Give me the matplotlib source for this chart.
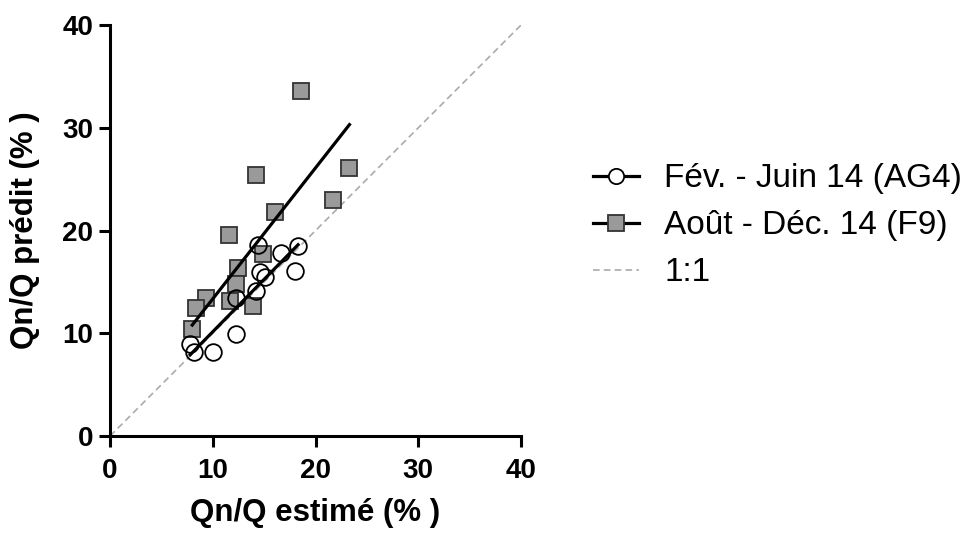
import numpy as np
import matplotlib
matplotlib.use("Agg")
import matplotlib.pyplot as plt

plt.rcParams["font.family"] = ["Liberation Sans", "DejaVu Sans"]

# -----------------------------
# Data
# -----------------------------
# Fév. - Juin 14 (AG4), circles
feb_x = [14.4, 18.3, 16.6, 18.0, 14.6, 15.1, 14.2, 12.3, 12.3, 7.8, 8.2, 10.0]
feb_y = [18.6, 18.5, 17.8, 16.1, 16.0, 15.5, 14.1, 13.4, 9.9, 9.0, 8.2, 8.2]

# Août - Déc. 14 (F9), squares
aug_x = [18.6, 23.3, 14.2, 21.7, 16.1, 11.6, 14.9, 12.5, 12.3, 11.7, 9.3, 8.4, 13.9, 8.0]
aug_y = [33.6, 26.1, 25.4, 23.0, 21.8, 19.6, 17.7, 16.4, 14.8, 13.1, 13.4, 12.5, 12.7, 10.4]

# regression lines as drawn on the chart (slope, intercept)
feb_fit = (1.02, -0.05)
aug_fit = (1.275, 0.6)

labels = ["Fév. - Juin 14 (AG4)", "Août - Déc. 14 (F9)", "1:1"]
ticks = [0, 10, 20, 30, 40]

# -----------------------------
# Figure
# -----------------------------
fig = plt.figure(figsize=(9.73, 5.33), dpi=100)
ax = fig.add_axes([0.1131, 0.182, 0.4224, 0.771])

# 1:1 line
ax.plot([0, 40], [0, 40], ls=(0, (4, 2.5)), color="#aaaaaa", lw=1.2,
        label=labels[2], zorder=1)

# linear fits
for xs, (k, b) in [(feb_x, feb_fit), (aug_x, aug_fit)]:
    xx = np.array([min(xs), max(xs)])
    ax.plot(xx, k * xx + b, color="black", lw=2.3, zorder=3)

ax.plot(aug_x, aug_y, ls="none", marker="s", ms=12, mfc="#9a9a9a",
        mec="#333333", mew=1.3, zorder=2)
ax.plot(feb_x, feb_y, ls="none", marker="o", ms=12, mfc="none",
        mec="black", mew=1.3, zorder=4)

ax.set_xlim(0, 40)
ax.set_ylim(0, 40)
ax.set_xticks(ticks)
ax.set_yticks(ticks)
for s in ["top", "right"]:
    ax.spines[s].set_visible(False)
for s in ["left", "bottom"]:
    ax.spines[s].set_linewidth(2.2)
ax.tick_params(direction="out", length=8, width=2.2, labelsize=20)
ax.tick_params(axis="x", pad=8)
ax.tick_params(axis="y", pad=4)
for t in ax.get_xticklabels() + ax.get_yticklabels():
    t.set_fontweight("bold")

ax.set_xlabel("Qn/Q estimé (% )", fontsize=22.5, fontweight="bold", labelpad=10)
ax.set_ylabel("Qn/Q prédit (% )", fontsize=22.5, fontweight="bold", labelpad=16)

# legend
h1, = ax.plot([], [], color="black", lw=2.3, marker="o", ms=11, mfc="white",
              mec="black", mew=1.3)
h2, = ax.plot([], [], color="black", lw=2.3, marker="s", ms=11, mfc="#9a9a9a",
              mec="#333333", mew=1.3)
h3, = ax.plot([], [], ls=(0, (4, 2.5)), color="#aaaaaa", lw=1.2)
fig.legend([h1, h2, h3], labels, loc="center left",
           bbox_to_anchor=(0.609, 0.576), frameon=False, fontsize=24,
           handlelength=1.4, handletextpad=0.75, labelspacing=0.48,
           borderpad=0, borderaxespad=0)

fig.savefig("out.png", dpi=100)
